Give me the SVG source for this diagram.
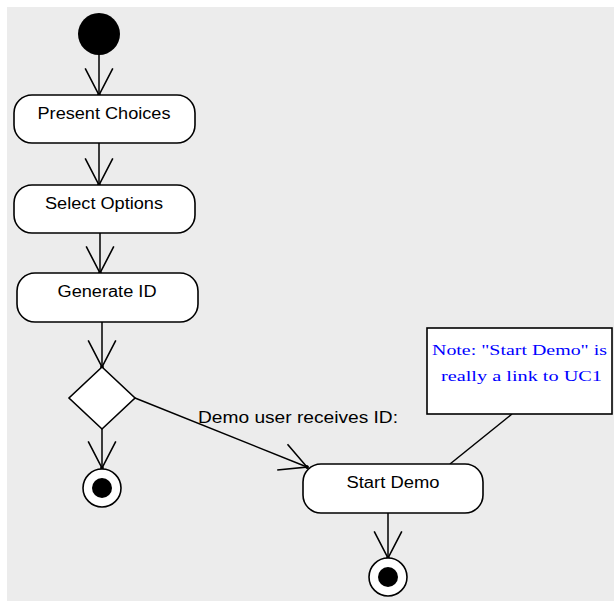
<svg xmlns="http://www.w3.org/2000/svg" width="614" height="601" viewBox="0 0 614 601">
<style>
.act{fill:#fff;stroke:#000;stroke-width:1.6}
.lbl{font-family:"Liberation Sans",Arial,sans-serif;font-size:16px;fill:#000}
.conn{fill:none;stroke:#000;stroke-width:1.5}
.note{font-family:"Liberation Serif","Times New Roman",serif;font-size:15px;fill:#0000ff}
</style>
<defs>
<marker id="arr" markerUnits="userSpaceOnUse" markerWidth="34" markerHeight="34" viewBox="-30 -16 32 32" refX="0" refY="0" orient="auto">
<path d="M-25,-13 L0,0 L-25,13" fill="none" stroke="#000" stroke-width="1.5"/>
<circle r="1.8" fill="#000"/>
</marker>
</defs>
<rect x="7" y="7" width="607" height="594" fill="#ececec"/>
<g id="connectors">
<line class="conn" x1="99" y1="55" x2="99" y2="95" marker-end="url(#arr)"/>
<line class="conn" x1="99" y1="143" x2="99" y2="185" marker-end="url(#arr)"/>
<line class="conn" x1="100" y1="233" x2="100" y2="273" marker-end="url(#arr)"/>
<line class="conn" x1="102" y1="322" x2="102" y2="367" marker-end="url(#arr)"/>
<line class="conn" x1="102" y1="429" x2="102" y2="468" marker-end="url(#arr)"/>
<line class="conn" x1="135" y1="398" x2="307" y2="467" marker-end="url(#arr)"/>
<text class="lbl" x="198" y="423" textLength="200" lengthAdjust="spacingAndGlyphs">Demo user receives ID:</text>
<line class="conn" x1="388" y1="513" x2="388" y2="558" marker-end="url(#arr)"/>
<line class="conn" x1="512" y1="414" x2="450" y2="464" stroke-width="1.2"/>
</g>
<g id="start">
<circle cx="99" cy="34" r="21" fill="#000"/>
</g>
<g id="present-choices">
<rect class="act" x="14" y="95" width="181" height="48" rx="18" ry="18"/>
<text class="lbl" x="104" y="119" text-anchor="middle" textLength="133" lengthAdjust="spacingAndGlyphs">Present Choices</text>
</g>
<g id="select-options">
<rect class="act" x="14" y="185" width="181" height="48" rx="18" ry="18"/>
<text class="lbl" x="104" y="209" text-anchor="middle" textLength="118" lengthAdjust="spacingAndGlyphs">Select Options</text>
</g>
<g id="generate-id">
<rect class="act" x="17" y="273" width="181" height="49" rx="18" ry="18"/>
<text class="lbl" x="107" y="297" text-anchor="middle" textLength="99" lengthAdjust="spacingAndGlyphs">Generate ID</text>
</g>
<g id="decision">
<polygon class="act" points="102,367 135,398 102,429 69,398"/>
</g>
<g id="final-1">
<circle cx="102" cy="488" r="19" fill="#fff" stroke="#000" stroke-width="1.6"/>
<circle cx="102" cy="488" r="10" fill="#000"/>
</g>
<g id="start-demo">
<rect class="act" x="303" y="464" width="180" height="49" rx="18" ry="18"/>
<text class="lbl" x="393" y="488" text-anchor="middle" textLength="93" lengthAdjust="spacingAndGlyphs">Start Demo</text>
</g>
<g id="final-2">
<circle cx="388" cy="577" r="19" fill="#fff" stroke="#000" stroke-width="1.6"/>
<circle cx="388" cy="577" r="10" fill="#000"/>
</g>
<g id="note">
<rect x="427" y="328" width="185" height="86" fill="#fff" stroke="#000" stroke-width="1.6"/>
<text class="note" x="519.5" y="355" text-anchor="middle" textLength="175" lengthAdjust="spacingAndGlyphs">Note: "Start Demo" is</text>
<text class="note" x="521.5" y="381" text-anchor="middle" textLength="161" lengthAdjust="spacingAndGlyphs">really a link to UC1</text>
</g>
</svg>
